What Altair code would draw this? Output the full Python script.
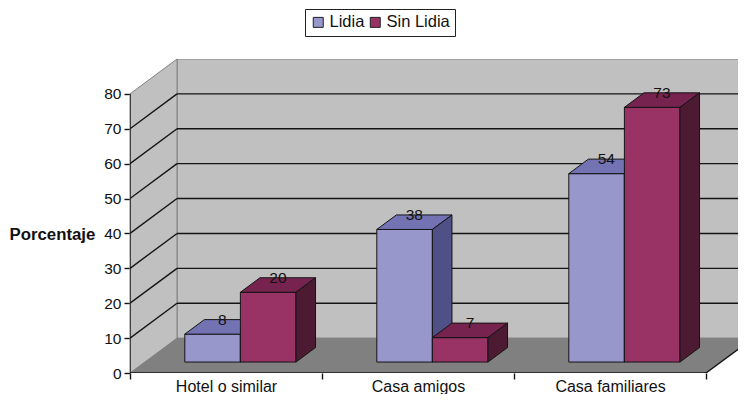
import altair as alt
import pandas as pd

categories = ["Hotel o similar", "Casa amigos", "Casa familiares"]
series_names = ["Lidia", "Sin Lidia"]
lidia = [8, 38, 54]
sin_lidia = [20, 7, 73]
ticks = [0, 10, 20, 30, 40, 50, 60, 70, 80]

front_colors = ["#9797CB", "#993366"]
top_colors = ["#7373B4", "#772350"]
side_colors = ["#4F5085", "#4D1A33"]
INK = "#141414"
FONT = "Liberation Sans"

# chart geometry in data units: one category = 1 on x, depth shifts both axes
DX, DY = 0.245, 10.0
X_MAX = 608 / 192
BAR_W, GAP = 0.2895, 0.2085
D0, D1 = 0.314, 0.73

xs = alt.Scale(domain=[0, X_MAX], nice=False, zero=False)
ys = alt.Scale(domain=[0, 90], nice=False, zero=False)

labels = {i + 0.5: c for i, c in enumerate(categories)}
label_expr = " : ".join(f"datum.value === {k} ? '{v}'" for k, v in labels.items()) + " : ''"

x_axis = alt.Axis(
    values=[0, 0.5, 1, 1.5, 2, 2.5, 3], labelExpr=label_expr, domain=False, grid=False,
    tickColor=INK, tickSize=6, tickWidth=1.4,
    tickOpacity={"condition": {"test": "datum.value % 1 === 0", "value": 1}, "value": 0},
    labelFont=FONT, labelFontSize=16, labelColor="#111", labelPadding=-1,
    labelOverlap=False, labelFlush=False, labelBound=False, title=None,
)
y_axis = alt.Axis(
    values=ticks, domain=False, grid=False, tickColor=INK, tickSize=6, tickWidth=1.4,
    labelFont=FONT, labelFontSize=15.5, labelColor="#111", labelPadding=3, labelOverlap=False,
    labelBound=False, labelFlush=False,
    title="Porcentaje", titleFont=FONT, titleFontSize=16.8, titleFontWeight="bold", titleColor="#111",
    titleAngle=0, titleAlign="left", titleBaseline="middle", titleX=-121, titleY=175,
)


def X(f="x"):
    return alt.X(f"{f}:Q", scale=xs, axis=x_axis)


def Y(f="y"):
    return alt.Y(f"{f}:Q", scale=ys, axis=y_axis)


X2 = alt.X2("x2:Q")
Y2 = alt.Y2("y2:Q")

layers = []

# back wall
back = pd.DataFrame([{"x": DX, "x2": 3 + DX + 1, "y": DY, "y2": 90}])
layers.append(
    alt.Chart(back).mark_rect(fill="#C0C0C0", stroke="#808080", strokeWidth=1, clip=True).encode(
        x=X(), x2=X2, y=Y(), y2=Y2
    )
)

# left wall
left = pd.DataFrame([{"x": 0, "y": 0, "y2": 80}, {"x": DX, "y": DY, "y2": 90}])
layers.append(
    alt.Chart(left).mark_area(orient="vertical", fill="#C0C0C0", stroke="#808080", strokeWidth=1).encode(
        x=X(), y=Y(), y2=Y2
    )
)

# floor
floor = pd.DataFrame([{"y": 0, "x": 0, "x2": 3}, {"y": DY, "x": DX, "x2": 3 + DX}])
layers.append(
    alt.Chart(floor).mark_area(orient="horizontal", fill="#808080", clip=True).encode(
        y=Y(), x=X(), x2=X2
    )
)

# gridlines: on the back wall and across the left wall
grid_rows = []
for v in ticks[1:-1]:
    grid_rows += [{"g": f"b{v}", "x": DX, "y": v + DY}, {"g": f"b{v}", "x": 3 + DX + 1, "y": v + DY}]
    grid_rows += [{"g": f"l{v}", "x": 0, "y": v}, {"g": f"l{v}", "x": DX, "y": v + DY}]
# axis lines
grid_rows += [{"g": "yaxis", "x": 0, "y": 0}, {"g": "yaxis", "x": 0, "y": 80}]
grid_rows += [{"g": "xaxis", "x": 0, "y": 0}, {"g": "xaxis", "x": 3, "y": 0}]
grid_rows += [{"g": "edge", "x": 3, "y": 0}, {"g": "edge", "x": 3 + DX, "y": DY}]
grid = pd.DataFrame(grid_rows)
layers.append(
    alt.Chart(grid).mark_line(color=INK, strokeWidth=1.4, clip=True).encode(
        x=X(), y=Y(), detail="g:N", order="x:Q"
    )
)

# bars: each series has a front, a top and a side face
text_rows = []
for si, (name, vals) in enumerate(zip(series_names, [lidia, sin_lidia])):
    fronts, tops, sides = [], [], []
    for ci, v in enumerate(vals):
        c = categories[ci]
        x0 = ci + D0 * DX + GAP + si * BAR_W
        x1 = x0 + BAR_W
        base = D0 * DY
        fronts.append({"s": name, "x": x0, "x2": x1, "y": base, "y2": base + v})
        back_dx, back_dy = (D1 - D0) * DX, (D1 - D0) * DY
        tops += [
            {"c": c, "y": base + v, "x": x0, "x2": x1},
            {"c": c, "y": base + v + back_dy, "x": x0 + back_dx, "x2": x1 + back_dx},
        ]
        sides += [
            {"c": c, "x": x1, "y": base, "y2": base + v},
            {"c": c, "x": x1 + back_dx, "y": base + back_dy, "y2": base + v + back_dy},
        ]
        text_rows.append({"t": v, "x": (x0 + x1) / 2 + back_dx / 2, "y": base + v + back_dy})
    layers.append(
        alt.Chart(pd.DataFrame(fronts)).mark_rect(stroke=INK, strokeWidth=1).encode(
            x=X(), x2=X2, y=Y(), y2=Y2,
            color=alt.Color(
                "s:N",
                scale=alt.Scale(domain=series_names, range=front_colors),
                legend=alt.Legend(
                    orient="none", legendX=175, legendY=-50, direction="horizontal", title=None,
                    fillColor="white", strokeColor="#222", padding=5, symbolType="square",
                    symbolSize=100, symbolStrokeColor="#222", symbolStrokeWidth=1,
                    labelFont=FONT, labelFontSize=16.5, labelColor="#111", columnPadding=2,
                    labelOffset=3,
                ),
            ),
        )
    )
    layers.append(
        alt.Chart(pd.DataFrame(tops)).mark_area(
            orient="horizontal", fill=top_colors[si], stroke=INK, strokeWidth=1
        ).encode(y=Y(), x=X(), x2=X2, detail="c:N")
    )
    layers.append(
        alt.Chart(pd.DataFrame(sides)).mark_area(
            orient="vertical", fill=side_colors[si], stroke=INK, strokeWidth=1
        ).encode(x=X(), y=Y(), y2=Y2, detail="c:N")
    )

layers.append(
    alt.Chart(pd.DataFrame(text_rows)).mark_text(
        font=FONT, fontSize=15.5, color="#111", baseline="middle", align="center"
    ).encode(x=X(), y=Y(), text="t:Q")
)

chart = (
    alt.layer(*layers)
    .properties(
        width=608, height=314,
        padding={"left": 122, "top": 51, "right": 0, "bottom": 21},
        autosize=alt.AutoSizeParams(type="none"),
        background="white",
    )
    .configure_view(stroke=None)
)

chart.save("out.html", embed_options={"renderer": "svg", "actions": False})
